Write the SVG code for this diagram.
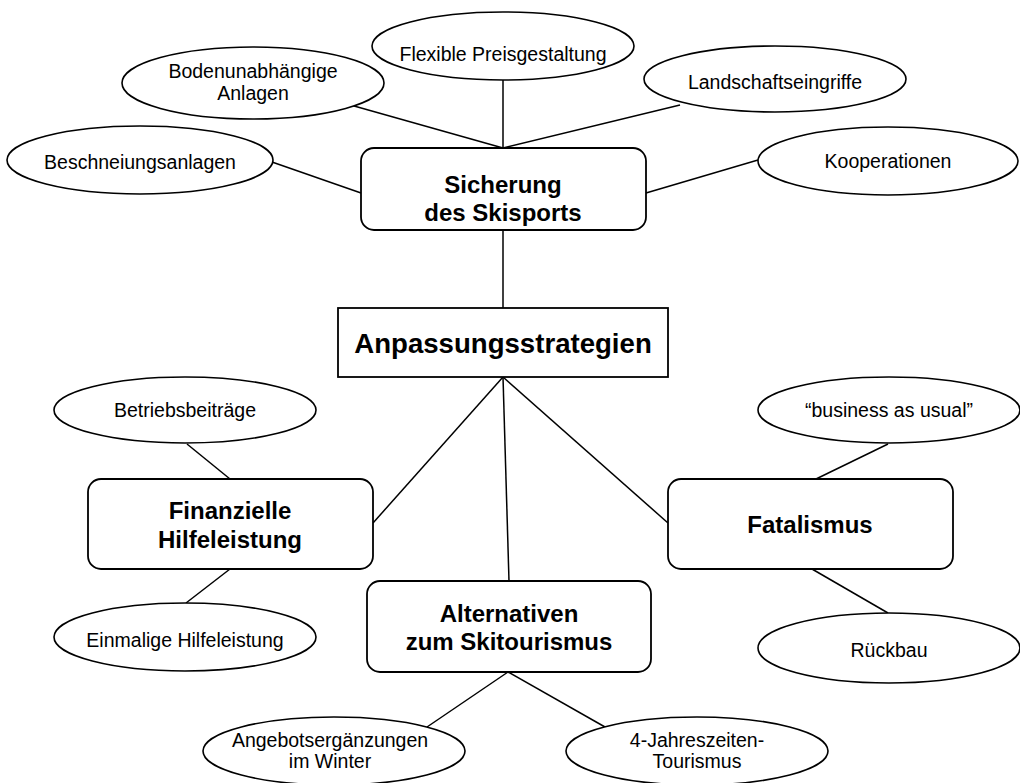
<svg xmlns="http://www.w3.org/2000/svg" width="1020" height="783" viewBox="0 0 1020 783">
<style>
.e{fill:#fff;stroke:#000;stroke-width:1.6}
.b{fill:#fff;stroke:#000;stroke-width:1.8}
.c line{stroke:#000;stroke-width:1.5}
.t{font-family:"Liberation Sans",Arial,sans-serif;font-size:19.5px;text-anchor:middle;fill:#000}
.h{font-family:"Liberation Sans",Arial,sans-serif;font-size:24px;font-weight:bold;text-anchor:middle;fill:#000}
</style>
<rect width="1020" height="783" fill="#fff"/>
<g class="c" id="connectors">
<line x1="272" y1="162" x2="361" y2="193"/>
<line x1="347" y1="104" x2="503" y2="148"/>
<line x1="503" y1="80" x2="503" y2="148"/>
<line x1="680" y1="105" x2="503" y2="148"/>
<line x1="758" y1="160" x2="646" y2="193"/>
<line x1="503" y1="230" x2="503" y2="308"/>
<line x1="503" y1="377" x2="373" y2="523"/>
<line x1="503" y1="377" x2="509" y2="581"/>
<line x1="503" y1="377" x2="668" y2="523"/>
<line x1="187" y1="444" x2="230" y2="479"/>
<line x1="230" y1="569" x2="186" y2="603"/>
<line x1="888" y1="444" x2="816" y2="479"/>
<line x1="812" y1="569" x2="888" y2="613"/>
<line x1="508" y1="672" x2="427" y2="727"/>
<line x1="508" y1="672" x2="605" y2="727"/>
</g>
<g id="flexible"><ellipse class="e" cx="503" cy="46" rx="131" ry="34"/><text class="t" x="503" y="61">Flexible Preisgestaltung</text></g>
<g id="bodenunabhaengig"><ellipse class="e" cx="253" cy="83" rx="131" ry="36"/><text class="t" x="253" y="78">Bodenunabhängige</text><text class="t" x="253" y="100">Anlagen</text></g>
<g id="beschneiung"><ellipse class="e" cx="140" cy="160" rx="133" ry="34"/><text class="t" x="140" y="169">Beschneiungsanlagen</text></g>
<g id="landschaft"><ellipse class="e" cx="775" cy="79" rx="131" ry="33"/><text class="t" x="775" y="89">Landschaftseingriffe</text></g>
<g id="kooperationen"><ellipse class="e" cx="888" cy="161" rx="130" ry="34"/><text class="t" x="888" y="168">Kooperationen</text></g>
<g id="sicherung"><rect class="b" x="361" y="148" width="285" height="82" rx="13"/><text class="h" x="503" y="193">Sicherung</text><text class="h" x="503" y="221">des Skisports</text></g>
<g id="anpassung"><rect class="b" x="338" y="308" width="330" height="69"/><text class="h" x="503" y="353" style="font-size:27.6px">Anpassungsstrategien</text></g>
<g id="betrieb"><ellipse class="e" cx="185" cy="410" rx="131" ry="33"/><text class="t" x="185" y="417">Betriebsbeiträge</text></g>
<g id="finanzielle"><rect class="b" x="88" y="479" width="285" height="90" rx="13"/><text class="h" x="230" y="519">Finanzielle</text><text class="h" x="230" y="548">Hilfeleistung</text></g>
<g id="einmalig"><ellipse class="e" cx="185" cy="637" rx="131" ry="34"/><text class="t" x="185" y="647">Einmalige Hilfeleistung</text></g>
<g id="business"><ellipse class="e" cx="889" cy="410" rx="131" ry="33"/><text class="t" x="889" y="417">“business as usual”</text></g>
<g id="fatalismus"><rect class="b" x="668" y="479" width="285" height="90" rx="13"/><text class="h" x="810" y="533">Fatalismus</text></g>
<g id="rueckbau"><ellipse class="e" cx="889" cy="648" rx="131" ry="35"/><text class="t" x="889" y="657">Rückbau</text></g>
<g id="alternativen"><rect class="b" x="367" y="581" width="284" height="91" rx="13"/><text class="h" x="509" y="622">Alternativen</text><text class="h" x="509" y="650">zum Skitourismus</text></g>
<g id="angebot"><ellipse class="e" cx="334" cy="751" rx="131" ry="34"/><text class="t" x="330" y="747">Angebotsergänzungen</text><text class="t" x="330" y="768">im Winter</text></g>
<g id="jahreszeiten"><ellipse class="e" cx="697" cy="751" rx="131" ry="34"/><text class="t" x="697" y="747">4-Jahreszeiten-</text><text class="t" x="697" y="768">Tourismus</text></g>
</svg>
